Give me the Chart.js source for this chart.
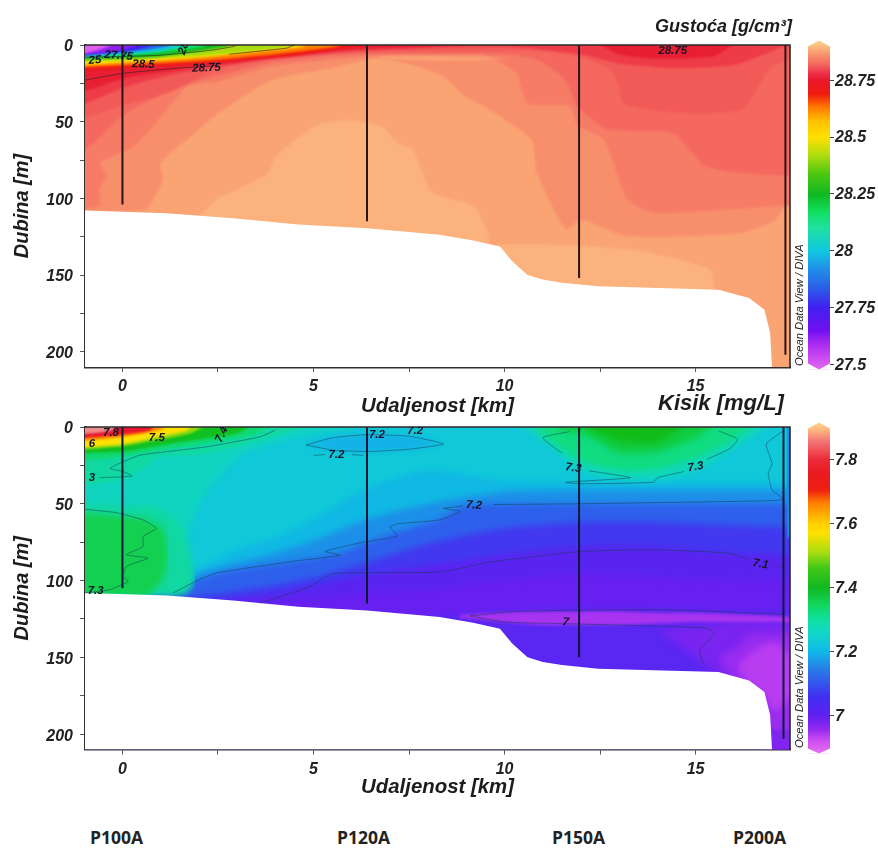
<!DOCTYPE html>
<html><head><meta charset="utf-8">
<script src="https://cdn.jsdelivr.net/npm/chart.js@4"></script>
<style>
html,body{margin:0;padding:0;background:#fff;width:878px;height:849px;overflow:hidden}
canvas{position:absolute}
.t{position:absolute;white-space:nowrap;font-family:"Liberation Sans",sans-serif;font-weight:bold;font-style:italic;color:#1c1c1c}
.st{position:absolute;white-space:nowrap;font-family:"Open Sans",sans-serif;font-weight:700;font-size:17.5px;color:#222}
.odv{position:absolute;white-space:nowrap;font-family:"Liberation Sans",sans-serif;font-style:italic;font-size:11.2px;color:#222;transform-origin:0 0;transform:rotate(-90deg)}
</style></head><body>
<canvas id="cRho" width="800" height="420" style="left:0px;top:0px"></canvas>
<canvas id="cOxy" width="800" height="410" style="left:0px;top:390px"></canvas>
<canvas id="barRho" width="78" height="350" style="left:800px;top:30px"></canvas>
<canvas id="barOxy" width="78" height="352" style="left:800px;top:412px"></canvas>
<div class="t" style="left:655px;top:16px;font-size:18px">Gustoća [g/cm³]</div>
<div class="t" style="left:658px;top:390px;font-size:22px">Kisik [mg/L]</div>
<div class="odv" style="left:793px;top:366px">Ocean Data View / DIVA</div>
<div class="odv" style="left:793px;top:748px">Ocean Data View / DIVA</div>
<div class="st" style="left:90px;top:825px">P100A</div>
<div class="st" style="left:337px;top:825px">P120A</div>
<div class="st" style="left:552px;top:825px">P150A</div>
<div class="st" style="left:733px;top:825px">P200A</div>
<script>
// ---------- shared readings ----------
const seabed=[[-2,108],[-1,108],[1.16,109.7],[2.9,113],[4.6,117],[6.4,119.5],[8.3,123.8],[9.18,127.5],[9.88,131.4],[10.2,141],[10.6,150],[11,153],[11.5,155],[12.45,157.4],[15.6,159.6],[16.4,165],[16.8,172.6],[16.95,187.6],[17,210],[17.02,260]];
const distanceRange=[-0.98,17.47];
const depthRange=[0,210];
// ---------- density section (km, depth) ----------
const rhoBase=[[-2,260],[19,260]];
const rhoDomeKm=[1.9,2.5,3.2,3.8,4.0,5.1,6,6.8,7.2,7.6,8.1,9.2,9.6];
const rhoDomeTop=[115,100,92,84,73,52,49,53,64,68,96,105,125];
const rhoDomeLow=[130,130,130,130,130,130,130,130,130,130,130,130,130];
const rhoLobeKm=[9.8,11,12,13.5,14.6,15.4,15.5];
const rhoLobeTop=[130,130,131,134,140,147,165];
const rhoLobeLow=[170,170,170,170,170,170,170];
const rho2=[[-2,110],[0.4,108],[0.65,107],[1.06,88],[1.0,77],[2.2,51],[2.5,44.6],[3.9,23],[5.5,15],[6.7,8.7],[8.3,19],[9,34],[9.6,42],[10.7,62],[10.85,84],[11.6,120],[12,114],[13.1,124],[14.4,125],[16.2,122.6],[17.1,114],[17.5,100],[19,100]];
const rho3=[[-2,108],[-0.6,105],[-0.6,94],[-0.4,85],[-0.6,77],[0.3,66],[1,47],[1.7,27],[2.5,24],[3.9,14],[6.7,7],[8.3,6.5],[9.5,7],[10.3,18],[10.6,38],[11.7,40],[11.9,52],[12.6,62],[13.2,100],[13.9,109.5],[17.2,105],[19,105]];
const rho4=[[-2,68],[-1,68],[0.1,44],[0.9,34],[1.6,26],[2.5,20],[4,11],[6,6],[10,6],[10.9,10],[11.6,23],[11.9,40],[12.7,55],[14.4,57.5],[15.3,79.5],[17.2,85],[19,85]];
const rho5=[[-2,47],[-1,47],[0.2,38],[1.2,31],[1.8,24],[2.5,16],[4,9],[6,5],[9,4],[11,4],[12,8],[12.75,16],[13,27],[13.1,38],[14.4,44],[16.2,42.5],[16.6,29],[17,14],[17.5,10],[19,10]];
const rho6=[[-2,38],[-1,38],[0,28],[1,21],[2,16],[4,8.5],[6,4],[8,2],[10,1],[12,6],[13,12],[14.5,15],[16,13],[16.9,5],[17.3,1],[19,1]];
const rho7=[[-2,32],[-1,30],[0,22],[1,18],[2,14.5],[4,8],[5.5,4],[6.4,2.5],[8,1],[10,-3],[12.2,-3],[13,6],[14,9],[15.5,7],[16.2,-3],[19,-3]];
const rhoTongueKm=[6.7,8,9,10.1];
const rhoTongueTop=[7.5,7.5,8,8.5];
const rhoTongueLow=[9,10,10,8.6];
const rhoRed=[[-2,17],[-1,16.3],[2,12],[4.6,6.5],[5.5,3],[6.4,0],[6.6,-3],[19,-3]];
const rhoOrange=[[-2,15],[-1,14.5],[2,10.5],[4,6],[5.6,1],[6,-3],[19,-3]];
const rhoYellow=[[-2,13.5],[-1,13],[1,10],[2.1,8],[3.6,4],[4.7,1.2],[5,-3],[19,-3]];
const rhoLime=[[-2,11],[-1,11],[2,7.2],[3.8,3],[4.6,0],[4.8,-3],[19,-3]];
const rhoGreen=[[-2,9.5],[-1,9.5],[1,7.5],[2.7,1],[3,-3],[19,-3]];
const rhoSpring=[[-2,8.3],[-1,8.3],[1,5],[2.1,1],[2.3,-3],[19,-3]];
const rhoCyan=[[-2,7.5],[-1,7.5],[0.8,4.5],[1.6,0.5],[1.8,-3],[19,-3]];
const rhoBlue=[[-2,6.8],[-1,6.8],[0.5,3.5],[1.2,0.6],[1.4,-3],[19,-3]];
const rhoIndigo=[[-2,6.2],[-1,6.2],[0.3,3.5],[0.7,0.5],[0.9,-3],[19,-3]];
const rhoPurple=[[-2,6],[-1,6],[-0.2,4],[0.3,1],[0.5,-3],[19,-3]];
const rhoMagenta=[[-2,5.5],[-1,5.5],[-0.6,3],[-0.3,0],[-0.2,-3],[19,-3]];
const rhoLine1=[[-1,23],[0,18.5],[1.5,15],[2.5,13.5]];
const rhoLine2=[[2.8,6],[4.3,2],[4.5,0]];
const rhoLine3=[[-1,8],[0.9,6.8],[2.3,3.5],[2.9,1],[3,0]];
const rhoStations=[[0,104],[6.4,115],[11.95,152],[17.35,202]];
const rhoLabels=[["25",-0.72,10,-5],["27.75",-0.1,7,5],["28.5",0.55,12.6,3],["28.75",2.2,15,-2],["28",1.6,2,-70],["28.75",14.4,4,0]];
// ---------- oxygen section (km, depth) ----------
const oxyBase=[[-2,260],[19,260]];
const oxyPurpleKm=[14,15,16,17,18,19];
const oxyPurpleTop=[132,130,126,126,126,126];
const oxyPurpleLow=[132,150,170,215,215,215];
const oxyVioletKm=[15.6,16,16.5,17,17.6,19];
const oxyVioletTop=[150,145,135,135,135,135];
const oxyVioletLow=[150,165,175,215,215,215];
const oxyOrchidKm=[16.1,16.3,16.7,17.1,17.5,17.8];
const oxyOrchidTop=[157,150,143,140,150,160];
const oxyOrchidLow=[157,165,172,185,175,160];
const oxyFootKm=[16.8,17.6,19];
const oxyFootTop=[197,197,197];
const oxyFootLow=[215,215,215];
const oxyLensKm=[8.8,10,11,12,13,14,15,16,17,18];
const oxyLensTop=[122,120.5,120,120,120,121,121,122,123,124];
const oxyLensLow=[124,127,129,129,129,128,127,127,127,127];
const oxyB1=[[-2,130],[0,128],[2,128],[4,128],[5,125],[6.4,125],[8,123],[10,119],[12,118],[14,118],[16,119],[17,119],[19,119]];
const oxyB2=[[-2,125],[0,125],[2,118],[4,114],[5,112],[6.4,108],[8,106],[10,100],[12,96],[14,98],[16,100],[17,100],[19,100]];
const oxyB3=[[-2,120],[0,118],[2,114],[4,108],[5,103],[6.4,96],[8,90],[10,83],[12,78],[14,78],[16,82],[17,83],[19,83]];
const oxyB4=[[-2,112],[0,112],[2,110],[4,103],[5,98],[6.4,88],[8,76],[10,66],[12,62],[14,62],[16,64],[17,65],[19,65]];
const oxyB5=[[-2,112],[1.3,108],[2,99.5],[2.5,95],[4.6,87],[5.7,82],[6.4,75],[7.2,68],[8.3,60],[9,51],[12,50],[14,50],[16,50],[17,50],[19,50]];
const oxyB6=[[-2,110],[0,108],[1.5,103],[2,95],[4,82],[5,74],[6.4,60],[8,50],[10,42],[12,41],[14,41],[16,41],[17,41],[19,41]];
const oxyB7=[[-2,109],[0,107],[2,92],[3,80],[4,72],[5,60],[6.4,40],[8,28],[10,35],[12,36],[14,36],[16,36],[17,36],[19,36]];
const oxyB8=[[-2,108],[0,107],[1,105],[1.5,85],[2,50],[3,20],[4,10],[5,4],[6,0],[6.2,-3],[19,-3]];
const oxyGreenKm=[-2,-1,0,0.8,1.4,1.7,1.9];
const oxyGreenTop=[50,50,52,52,60,75,98];
const oxyGreenLow=[110,110,110,110,110,108,100];
const oxyCoreKm=[-2,-1,0,0.6,1.05,1.2];
const oxyCoreTop=[56,56,58,60,66,80];
const oxyCoreLow=[110,110,110,110,100,85];
const oxyBlueLensKm=[4.8,5.5,6.4,7.5,8.4];
const oxyBlueLensTop=[11.7,7,5,6,11];
const oxyBlueLensLow=[11.7,15,16,14.5,11];
const oxyStripKm=[17.38,17.7];
const oxyStripTop=[-3,-3];
const oxyStripLow=[72,72];
const oxyR1=[[10.3,-3],[11,9],[11.5,19],[12,28],[13,34],[14,34],[15,28],[16,14],[16.6,4],[17,-3]];
const oxyR2=[[10.8,-3],[11,5],[12,22],[13,28],[14,27],[15,20],[16,8],[16.5,-3]];
const oxyR3=[[11.3,-3],[11.5,2],[12.2,6],[13,17],[14,16],[15,7],[15.5,-3]];
const oxyR4=[[12.1,-3],[12.3,2],[13,9],[14,10],[14.8,-3]];
const oxyS1=[[-2,40],[-1,38],[0,34],[0.5,27],[1,19],[2,18],[3,13],[4,6],[4.5,2],[5,-3],[19,-3]];
const oxyS2=[[-2,22],[-1,22],[0,19],[1,15],[2,11],[3,7],[3.5,4],[4,-3],[19,-3]];
const oxyS3=[[-2,17],[-1,17],[0,16],[1,12],[2,8],[3,4],[3.6,-3],[19,-3]];
const oxyS4=[[-2,14.5],[-1,14.5],[0,12.5],[1,8],[1.8,4],[2.4,-3],[19,-3]];
const oxyS5=[[-2,13],[-1,13],[0,11],[1,6],[1.7,2],[1.9,-3],[19,-3]];
const oxyS6=[[-2,9],[-1,9],[0,6.5],[0.6,4],[1,2],[1.3,-3],[19,-3]];
const oxyS7=[[-2,7],[-1,7],[0,5],[0.7,2.5],[1,-3],[19,-3]];
const oxyS8=[[-2,4.5],[-1,4.5],[-0.3,2.5],[0,-3],[19,-3]];
const oxyLine73a=[[-0.98,53.6],[-0.155,55.8],[0.54,60.5],[0.89,66],[0.54,71.3],[0.54,77.8],[0.1,83.2],[0.67,85.4],[0.1,90.8],[0.02,97.3],[0.15,100.5],[-0.33,106],[-0.98,108]];
const oxyLine73b=[[4,2],[3.6,6.4],[2.2,12.9],[0.46,18.3],[0.02,22.6],[-0.33,27],[0.02,29],[0.25,32],[-0.6,33]];
const oxyLine72a=[[1.33,108],[2,99.5],[2.46,95],[4.6,87],[5.7,83.5],[5.3,81],[6.2,75.5],[7.2,71],[7,65],[7.2,63],[8.3,60.5],[8.84,55],[8.4,53],[8.9,51.5]];
const oxyLine72b=[[9.7,50.5],[11.9,50],[17,48],[17.3,47],[17,41],[16.9,30],[17,24],[16.85,11],[17.3,2.5]];
const oxyLine71=[[3.6,114.7],[4.9,104],[5.5,95.5],[8.3,94.5],[9.6,88],[12,81],[14,80],[15.8,82],[16.4,86]];
const oxyLine71b=[[17.1,90.5],[17.4,92]];
const oxyLine73c=[[15.6,2.5],[16.1,8],[15.9,14],[15.3,21]];
const oxyLine73d=[[14.7,29],[14,33],[13.9,36],[12,37],[11.6,36],[13.3,33],[12.2,28.5]];
const oxyLine73e=[[11.5,17],[11,7],[11.7,3]];
const oxyLine70=[[9.1,123],[10.3,120],[14.2,119],[17.3,122]];
const oxyLine70b=[[9.1,123],[10,127],[11.5,128],[13,129],[15.3,131],[15.5,135],[15.1,145],[15.2,154]];
const oxyLine72c=[[4.8,11.7],[5.5,7],[6.4,5],[7.5,6],[8.4,11],[7.5,14.5],[6.4,16],[5.5,15],[4.8,11.7]];
const oxyLine72d=[[5,18.5],[5.3,18]];
const oxyLine72e=[[6,18],[6.3,18.5]];
const oxyStations=[[0,105],[6.4,115],[11.95,150],[17.3,203]];
const oxyLabels=[["7.8",-0.3,3.5,0],["7.5",0.9,7,0],["7.4",2.6,5,-65],["6",-0.8,11,0],["3",-0.8,33,0],["7.3",-0.7,107,0],["7.2",6.66,5,0],["7.2",7.66,2.6,0],["7.2",5.6,18,0],["7.3",11.8,26.7,8],["7.3",15,26,-10],["7.2",9.2,51,5],["7.1",16.7,89.3,10],["7",11.6,127,5]];
// ---------- colour bars ----------
const rhoTicks=[27.5,27.75,28,28.25,28.5,28.75];
const rhoStops=[[28.924,"#FDD490"],[28.89,"#FBB27C"],[28.86,"#F88F6C"],[28.82,"#F4685F"],[28.78,"#EE3048"],[28.75,"#E81A2C"],[28.69,"#F01A10"],[28.63,"#FF7A00"],[28.57,"#FFC000"],[28.5,"#FFE000"],[28.42,"#B0DC10"],[28.34,"#50C810"],[28.25,"#10B820"],[28.17,"#10E060"],[28.1,"#20E0A0"],[28,"#10C8E0"],[27.92,"#2090E8"],[27.84,"#2A60E8"],[27.75,"#4020F0"],[27.65,"#7010F0"],[27.58,"#B030F0"],[27.478,"#E468F0"]];
const oxyTicks=[7,7.2,7.4,7.6,7.8];
const oxyStops=[[7.916,"#FDD490"],[7.89,"#FBB27C"],[7.86,"#F4787A"],[7.8,"#EC2A38"],[7.757,"#E81A20"],[7.705,"#F02010"],[7.665,"#FF8000"],[7.6,"#FFD000"],[7.57,"#FFE000"],[7.51,"#A8DC10"],[7.46,"#40C818"],[7.4,"#10B820"],[7.345,"#10D860"],[7.3,"#10E0A0"],[7.26,"#10D8C8"],[7.2,"#10B8E8"],[7.14,"#2A78E8"],[7.06,"#4030F0"],[7,"#6020F0"],[6.96,"#9028F0"],[6.92,"#D050F0"],[6.882,"#E470F0"]];

// ---------- helpers ----------
const SKY=-20, DEEP=260;
const zip=(a,b)=>a.map((v,i)=>[v,b[i]]);
const P=a=>a.map(p=>({x:p[0],y:p[1]}));
function Field(){this.ds=[];}
Field.prototype.up=function(pts,color,blur){ // fill from a boundary to the surface
  this.ds.push({data:P(pts),fill:{value:SKY},backgroundColor:color,borderWidth:0,pointRadius:0,tension:0.2,blur:blur});return this;};
Field.prototype.lens=function(km,top,low,color,blur){
  const i=this.ds.length;
  this.ds.push({data:P(zip(km,top)),fill:false,borderWidth:0,pointRadius:0,tension:0.2,blur:blur});
  this.ds.push({data:P(zip(km,low)),fill:i,backgroundColor:color,borderWidth:0,pointRadius:0,tension:0.2,blur:blur});return this;};
Field.prototype.mask=function(pts){
  this.ds.push({data:P(pts),fill:{value:DEEP},backgroundColor:"#fff",borderWidth:0,pointRadius:0,tension:0,blur:0});return this;};
Field.prototype.line=function(pts,color){
  this.ds.push({data:P(pts),fill:false,borderColor:color,borderWidth:0.9,pointRadius:0,tension:0.15,blur:0});return this;};
Field.prototype.station=function(s,color){
  this.ds.push({data:P([[s[0],0],[s[0],s[1]]]),fill:false,borderColor:color,borderWidth:2,pointRadius:0,tension:0,blur:0});return this;};
const blurPlugin={id:"blurFill",
  beforeDatasetsDraw(c){c.ctx.save();const b=c.data.datasets[0].blur;c.ctx.filter=b?`blur(${b}px)`:"none";},
  afterDatasetDraw(c,a){const n=c.data.datasets[a.index+1];const b=n?n.blur:0;c.ctx.filter=b?`blur(${b}px)`:"none";},
  afterDatasetsDraw(c){c.ctx.restore();}};
const framePlugin={id:"frameAndLabels",afterDatasetsDraw(c,a,o){
  const g=c.ctx,A=c.chartArea;g.save();
  g.strokeStyle="#2a2a2a";g.lineWidth=1.6;g.beginPath();g.moveTo(A.left,A.top);g.lineTo(A.right,A.top);g.lineTo(A.right,A.bottom);g.stroke();
  g.font='italic bold 11.5px "Liberation Sans"';g.fillStyle="#141428";g.textAlign="center";g.textBaseline="middle";
  g.beginPath();g.rect(A.left,A.top,A.right-A.left,A.bottom-A.top);g.clip();
  (c.options.contourLabels||[]).forEach(l=>{g.save();g.translate(c.scales.x.getPixelForValue(l[1]),c.scales.y.getPixelForValue(l[2]));g.rotate(l[3]*Math.PI/180);g.fillText(l[0],0,0);g.restore();});
  g.restore();}};
const axisFont={family:'"Liberation Sans"',size:16,weight:"bold",style:"italic"};
function section(id,field,labels,padTop,xHeight,titlePad){
  field.ds.forEach((d,i)=>{d.order=field.ds.length-i;});
  return new Chart(document.getElementById(id),{type:"line",data:{datasets:field.ds},plugins:[blurPlugin,framePlugin],
    options:{responsive:false,animation:false,contourLabels:labels,layout:{padding:{top:padTop,right:10,left:0,bottom:0}},
      plugins:{legend:{display:false},tooltip:{enabled:false},title:{display:false}},
      elements:{line:{capBezierPoints:true}},
      scales:{
        x:{type:"linear",min:distanceRange[0],max:distanceRange[1],afterFit(s){s.height=xHeight;},
          grid:{drawOnChartArea:false,tickLength:5,color:"#555"},border:{color:"#2e2e2e",width:2.4},
          ticks:{stepSize:2.5,includeBounds:false,autoSkip:false,maxRotation:0,padding:5,color:"#222",font:axisFont,callback:v=>v%5===0?String(v):""},
          title:{display:true,text:"Udaljenost [km]",color:"#1c1c1c",font:{family:'"Liberation Sans"',size:20.4,weight:"bold",style:"italic"},padding:{top:0,bottom:titlePad}}},
        y:{type:"linear",reverse:true,min:depthRange[0],max:depthRange[1],afterFit(s){s.width=85;},
          grid:{drawOnChartArea:false,tickLength:5,color:"#555"},border:{color:"#2e2e2e",width:2.4},
          ticks:{stepSize:25,includeBounds:false,autoSkip:false,padding:7,labelOffset:2,color:"#222",font:axisFont,callback:v=>v%50===0?String(v):""},
          title:{display:true,text:"Dubina [m]",color:"#1c1c1c",font:{family:'"Liberation Sans"',size:20,weight:"bold",style:"italic"},padding:{top:10,bottom:0}}}
      }}});
}
function colorBar(id,stops,ticks,shoulderTop,shoulderLow,padTop,padBottom){
  const vals=stops.map(s=>s[0]),vmax=vals[0],vmin=vals[vals.length-1];
  const grad=ctx=>{const c=ctx.chart;if(!c.chartArea)return "#888";const y=c.scales.y,p0=y.getPixelForValue(vmax),p1=y.getPixelForValue(vmin);
    const g=c.ctx.createLinearGradient(0,p0,0,p1);stops.forEach(s=>g.addColorStop((y.getPixelForValue(s[0])-p0)/(p1-p0),s[1]));return g;};
  new Chart(document.getElementById(id),{type:"line",data:{datasets:[
    {data:P([[0,shoulderTop],[0.5,vmax],[1,shoulderTop]]),fill:{value:vmin-1},backgroundColor:grad,borderWidth:0,pointRadius:0,order:2},
    {data:P([[0,shoulderLow],[0.5,vmin],[1,shoulderLow]]),fill:{value:vmin-1},backgroundColor:"#fff",borderWidth:0,pointRadius:0,order:1}]},
    options:{responsive:false,animation:false,layout:{padding:{top:padTop,bottom:padBottom,left:8,right:0}},
      plugins:{legend:{display:false},tooltip:{enabled:false}},
      scales:{x:{type:"linear",min:0,max:1,display:false},
        y:{type:"linear",position:"right",min:vmin,max:vmax,afterFit(s){s.width=48;},
          afterBuildTicks(s){s.ticks=ticks.map(v=>({value:v}));},
          grid:{drawOnChartArea:false,tickLength:4,color:"#444"},border:{display:false},
          ticks:{padding:1,labelOffset:1,color:"#222",font:axisFont,callback:v=>String(v)}}}}});
}

// ---------- density field ----------
const rho=new Field();
rho.up(rhoBase,"#FAA474",0.8)
 .lens(rhoDomeKm,rhoDomeTop,rhoDomeLow,"#FBB27C",0.8)
 .lens(rhoLobeKm,rhoLobeTop,rhoLobeLow,"#FBB27C",0.8)
 .up(rho2,"#F88F6C",0.8).up(rho3,"#F67C66",0.8).up(rho4,"#F4685F",0.8).up(rho5,"#F25A58",0.8)
 .lens(rhoTongueKm,rhoTongueTop,rhoTongueLow,"#FAA474",0.8)
 .up(rho6,"#EE3B48",0.8).up(rho7,"#E81E32",0.8).up(rhoRed,"#F01A14",0.8).up(rhoOrange,"#FF8000",0.8).up(rhoYellow,"#FFE000",0.8)
 .up(rhoLime,"#A8DC10",0.8).up(rhoGreen,"#14B81E",0.8).up(rhoSpring,"#10E070",0.8).up(rhoCyan,"#10C8E0",0.8).up(rhoBlue,"#2A60E8",0.8)
 .up(rhoIndigo,"#4020F0",0.8).up(rhoPurple,"#9020F0",0.8).up(rhoMagenta,"#E060F0",0.8)
 .mask(seabed);
[rhoLine1,rhoLine2,rhoLine3].forEach(l=>rho.line(l,"rgba(40,30,30,.65)"));
rhoStations.forEach(s=>rho.station(s,"#2a1418"));
section("cRho",rho,rhoLabels,45,53,1);

// ---------- oxygen field ----------
const oxy=new Field();
oxy.up(oxyBase,"#5A26F2",3)
 .lens(oxyPurpleKm,oxyPurpleTop,oxyPurpleLow,"#7A24F0",4)
 .lens(oxyVioletKm,oxyVioletTop,oxyVioletLow,"#9A2CF0",4)
 .lens(oxyOrchidKm,oxyOrchidTop,oxyOrchidLow,"#B83CF0",3)
 .lens(oxyFootKm,oxyFootTop,oxyFootLow,"#8224F0",0.8)
 .lens(oxyLensKm,oxyLensTop,oxyLensLow,"#A834F0",1.5)
 .up(oxyB1,"#6820F0",3).up(oxyB2,"#5A24F0",3).up(oxyB3,"#4238F0",3).up(oxyB4,"#2E60EC",3).up(oxyB5,"#1C90E8",3).up(oxyB6,"#10B8E4",3).up(oxyB7,"#10C8D8",3).up(oxyB8,"#10D4C0",3)
 .lens(oxyGreenKm,oxyGreenTop,oxyGreenLow,"#10D8A0",3)
 .lens(oxyCoreKm,oxyCoreTop,oxyCoreLow,"#14D050",3)
 .lens(oxyBlueLensKm,oxyBlueLensTop,oxyBlueLensLow,"#14B0E8",3)
 .lens(oxyStripKm,oxyStripTop,oxyStripLow,"#1C88E8",1)
 .up(oxyR1,"#10D8B8",3).up(oxyR2,"#10DC80",3).up(oxyR3,"#10CC40",3).up(oxyR4,"#10BC18",3)
 .up(oxyS1,"#10D8A0",1.5).up(oxyS2,"#10D870",1).up(oxyS3,"#10C020",1).up(oxyS4,"#90D810",0.8).up(oxyS5,"#FFE000",0.8).up(oxyS6,"#FF9000",0.8).up(oxyS7,"#E8162C",0.8).up(oxyS8,"#F08C8C",0.8)
 .mask(seabed);
[oxyLine73a,oxyLine73b,oxyLine73c,oxyLine73d,oxyLine73e,oxyLine72a,oxyLine72b,oxyLine72c,oxyLine72d,oxyLine72e,oxyLine71,oxyLine71b,oxyLine70,oxyLine70b].forEach(l=>oxy.line(l,"rgba(20,60,80,.55)"));
oxyStations.forEach(s=>oxy.station(s,"#0c1838"));
section("cOxy",oxy,oxyLabels,37,50.5,0);

colorBar("barRho",rhoStops,rhoTicks,28.898,27.504,10,8);
colorBar("barOxy",oxyStops,oxyTicks,7.8975,6.8975,10,9);
</script>
</body></html>
